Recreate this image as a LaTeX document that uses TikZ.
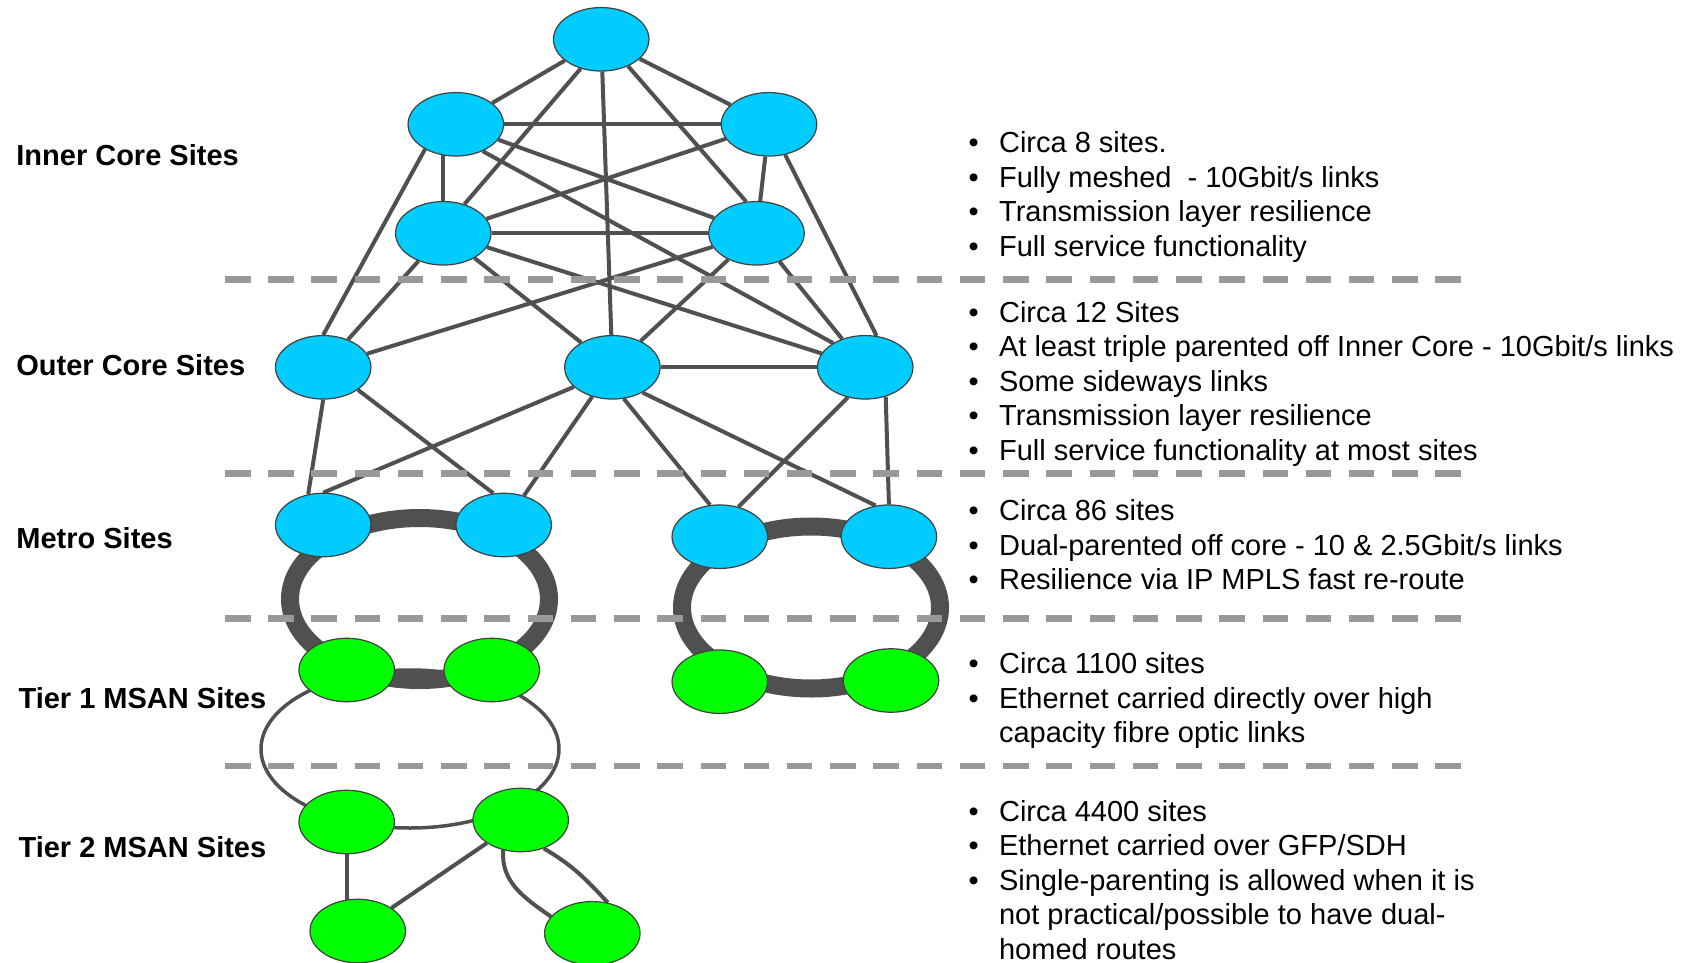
\documentclass[tikz,border=0pt]{standalone}
\usepackage{fontspec}
\setmainfont{Liberation Sans}
\usetikzlibrary{shapes.geometric,backgrounds}

\definecolor{site}{HTML}{00CCFF}
\definecolor{msan}{HTML}{00FF00}
\definecolor{link}{HTML}{505050}
\definecolor{tier}{HTML}{999999}
\definecolor{rim}{HTML}{404040}

% bullet and hanging indent for the notes column
\newcommand{\bul}{\makebox[30.5pt][l]{•}}
\newcommand{\cont}{\hspace*{30.5pt}}

\tikzset{
  core/.style={ellipse, draw=rim, line width=1.2pt, fill=site,
    minimum width=95.5pt, minimum height=63.5pt, inner sep=0pt},
  msannode/.style={core, fill=msan},
  linkline/.style={draw=link, line width=4pt},
  ringline/.style={draw=link, line width=18pt},
  thinring/.style={draw=link, line width=3.5pt},
  tierline/.style={draw=tier, line width=6.5pt, dash pattern=on 25.5pt off 17.73pt},
  layerlabel/.style={anchor=base west, inner sep=0pt,
    font=\fontsize{29}{34.5}\selectfont\bfseries},
  notes/.style={anchor=base west, inner sep=0pt,
    font=\fontsize{29}{34.5}\selectfont},
}

\begin{document}
\begin{tikzpicture}[x=1pt,y=1pt]
\useasboundingbox (0,0) rectangle (1698,-963);

% ---- sites ----
% inner core
\node[core] (T)   at (601.2,-39.3) {};
\node[core] (IL1) at (455.8,-124.3) {};
\node[core] (IR1) at (769,-124.3) {};
\node[core] (IL2) at (443.3,-233.3) {};
\node[core] (IR2) at (756.5,-233.3) {};
% outer core
\node[core] (OL) at (323.2,-367.3) {};
\node[core] (OM) at (612.4,-367.3) {};
\node[core] (OR) at (865.2,-367.3) {};
% metro
\node[core] (ML1) at (323.2,-525) {};
\node[core] (ML2) at (503.7,-525) {};
\node[core] (MR1) at (719.8,-536.7) {};
\node[core] (MR2) at (888.9,-536.7) {};
% tier 1 MSAN
\node[msannode] (GL1) at (346.7,-670) {};
\node[msannode] (GL2) at (491.7,-670) {};
\node[msannode] (GR1) at (719.8,-681.7) {};
\node[msannode] (GR2) at (891,-680.5) {};
% tier 2 MSAN
\node[msannode] (T2a) at (346.7,-822) {};
\node[msannode] (T2b) at (520.7,-820) {};
\node[msannode] (T3a) at (357.7,-931) {};
\node[msannode] (T3b) at (592.3,-933.3) {};

\begin{pgfonlayer}{background}
  \fill[white] (0,0) rectangle (1698,-963);
  % metro rings and the tier 1 / tier 2 loop
  \draw[ringline] (419.5,-599) ellipse [x radius=129.5, y radius=81];
  \draw[ringline] (811,-607.5) ellipse [x radius=129, y radius=81];
  \draw[thinring] (410,-749) ellipse [x radius=149, y radius=79];

  % inner core mesh
  \draw[linkline] (T) -- (IL1);
  \draw[linkline] (T) -- (IR1);
  \draw[linkline] (T.235) -- (IL2.54);
  \draw[linkline] (T.315) -- (IR2.108);
  \draw[linkline] (T) -- (OM);
  \draw[linkline] (IL1) -- (IR1);
  \draw[linkline] (IL1 -| IL2) -- (IL2);
  \draw[linkline] (IR1) -- (IR2);
  \draw[linkline] (IL1) -- (IR2);
  \draw[linkline] (IR1) -- (IL2);
  \draw[linkline] (IL2) -- (IR2);
  % inner to outer core
  \draw[linkline] (IL1.219) -- (OL.north);
  \draw[linkline] (IL1.315) -- (OR.143);
  \draw[linkline] (IR1.298) -- (OR.70);
  \draw[linkline] (IL2) -- (OL);
  \draw[linkline] (IL2) -- (OM);
  \draw[linkline] (IL2) -- (OR);
  \draw[linkline] (IR2) -- (OL);
  \draw[linkline] (IR2) -- (OM);
  \draw[linkline] (IR2) -- (OR);
  \draw[linkline] (OM) -- (OR);
  % outer core to metro
  \draw[linkline] (OL.south) -- (ML1.116);
  \draw[linkline] (OL.327) -- (ML2.108);
  \draw[linkline] (OM.207) -- (ML1.north);
  \draw[linkline] (OM) -- (ML2);
  \draw[linkline] (OM.290) -- (MR1.107);
  \draw[linkline] (OM.320) -- (MR2.113);
  \draw[linkline] (OR.240) -- (MR1.58);
  \draw[linkline] (OR.305) -- (MR2.north);
  % tier 2 links
  \draw[linkline] (T2a) -- (T2a |- T3a);
  \draw[linkline] (T2b) -- (T3a);
  \draw[linkline] (T2b.240) to[out=265,in=145] (T3b.158);
  \draw[linkline] (T2b.309) to[out=330,in=133] (T3b.63);
\end{pgfonlayer}

% ---- layer dividers ----
\foreach \yy in {279.4,473.5,618.3,766}
  \draw[tierline] (225,-\yy) -- (1461,-\yy);

% ---- layer names ----
\node[layerlabel] (lblinner) at (16.2,-165.3) {Inner Core Sites};
\node[layerlabel] (lblouter) at (16.2,-375.4) {Outer Core Sites};
\node[layerlabel] (lblmetro) at (16.2,-548.4) {Metro Sites};
\node[layerlabel] (lbltier1) at (18.4,-708.9) {Tier 1 MSAN Sites};
\node[layerlabel] (lbltier2) at (18.4,-857.2) {Tier 2 MSAN Sites};

% ---- notes ----
\node[notes] (txtinner) at (968.4,-152.7) {\parbox[t]{720pt}{%
  \bul Circa 8 sites.\\
  \bul Fully meshed~ - 10Gbit/s links\\
  \bul Transmission layer resilience\\
  \bul Full service functionality}};
\node[notes] (txtouter) at (968.4,-322) {\parbox[t]{720pt}{%
  \bul Circa 12 Sites\\
  \bul At least triple parented off Inner Core - 10Gbit/s links\\
  \bul Some sideways links\\
  \bul Transmission layer resilience\\
  \bul Full service functionality at most sites}};
\node[notes] (txtmetro) at (968.4,-520.5) {\parbox[t]{720pt}{%
  \bul Circa 86 sites\\
  \bul Dual-parented off core - 10 \& 2.5Gbit/s links\\
  \bul Resilience via IP MPLS fast re-route}};
\node[notes] (txttier1) at (968.4,-673.5) {\parbox[t]{720pt}{%
  \bul Circa 1100 sites\\
  \bul Ethernet carried directly over high\\
  \cont capacity fibre optic links}};
\node[notes] (txttier2) at (968.4,-821) {\parbox[t]{720pt}{%
  \bul Circa 4400 sites\\
  \bul Ethernet carried over GFP/SDH\\
  \bul Single-parenting is allowed when it is\\
  \cont not practical/possible to have dual-\\
  \cont homed routes}};
\end{tikzpicture}
\end{document}
